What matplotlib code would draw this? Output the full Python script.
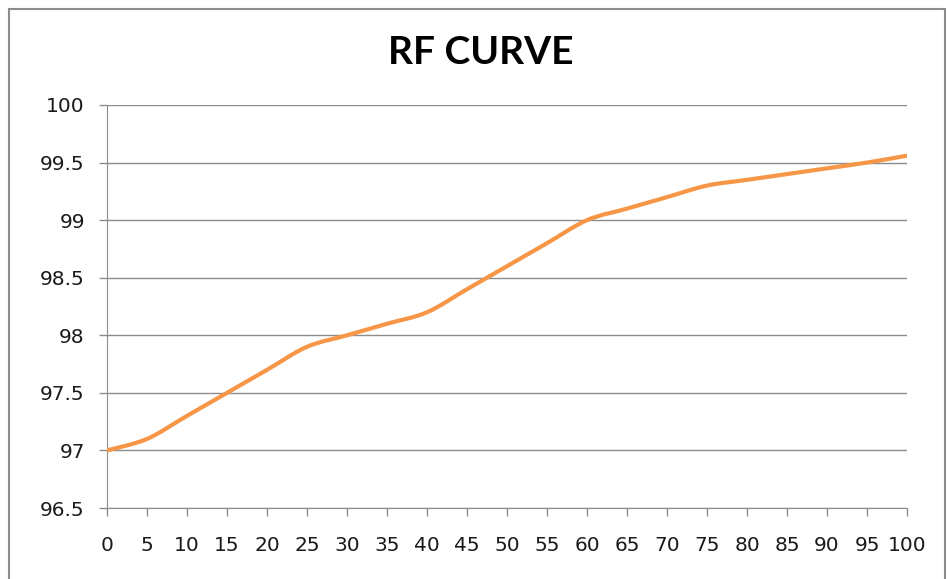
import numpy as np
import matplotlib.pyplot as plt
from matplotlib.path import Path
from matplotlib.patches import PathPatch, Rectangle

x_vals = [0, 5, 10, 15, 20, 25, 30, 35, 40, 45, 50, 55, 60, 65, 70, 75, 80, 85, 90, 95, 100]
rf_vals = [97.0, 97.1, 97.3, 97.5, 97.7, 97.9, 98.0, 98.1, 98.2, 98.4, 98.6, 98.8, 99.0,
           99.1, 99.2, 99.3, 99.35, 99.4, 99.45, 99.5, 99.56]
y_ticks = [96.5, 97, 97.5, 98, 98.5, 99, 99.5, 100]
title = 'RF CURVE'


def smooth_path(xs, ys):
    # excel-like smoothed line: catmull-rom turned into bezier segments
    xs = np.asarray(xs, float)
    ys = np.asarray(ys, float)
    n = len(xs)
    verts = [(xs[0], ys[0])]
    codes = [Path.MOVETO]
    for i in range(n - 1):
        p0 = i - 1 if i > 0 else i
        p3 = i + 2 if i + 2 < n else i + 1
        c1 = (xs[i] + (xs[i + 1] - xs[p0]) / 6, ys[i] + (ys[i + 1] - ys[p0]) / 6)
        c2 = (xs[i + 1] - (xs[p3] - xs[i]) / 6, ys[i + 1] - (ys[p3] - ys[i]) / 6)
        verts += [c1, c2, (xs[i + 1], ys[i + 1])]
        codes += [Path.CURVE4] * 3
    return Path(verts, codes)


W, H = 947, 579
fig = plt.figure(figsize=(W / 100, H / 100), dpi=100)
ax = fig.add_axes([107 / W, 1 - 508 / H, 800 / W, 403 / H])

patch = PathPatch(smooth_path(x_vals, rf_vals), facecolor='none',
                  edgecolor='#F79646', lw=3.0, capstyle='round', zorder=3)
ax.add_patch(patch)

ax.set_xlim(0, 100)
ax.set_ylim(96.5, 100)
ax.set_xticks(x_vals)
ax.set_yticks(y_ticks)
ax.set_yticklabels([('%g' % v) for v in y_ticks])
ax.grid(axis='y', color='#8c8c8c', lw=1)
ax.set_axisbelow(True)
for s in ['top', 'right']:
    ax.spines[s].set_visible(False)
for s in ['left', 'bottom']:
    ax.spines[s].set_color('#8c8c8c')
ax.tick_params(colors='#8c8c8c', length=6, width=1, labelcolor='#1a1a1a', labelsize=14.5)
ax.tick_params(axis='x', pad=14)
ax.tick_params(axis='y', pad=10)

fig.text(481 / W, 1 - 53 / H, title, ha='center', va='center',
         fontsize=28, fontweight='bold', family='Lato')

fig.patches.append(Rectangle((9 / W, -0.1), 936 / W, 1.1 - 9 / H, transform=fig.transFigure,
                             fill=False, edgecolor='#8c8c8c', lw=1.5))

fig.savefig('out.png', dpi=100)
